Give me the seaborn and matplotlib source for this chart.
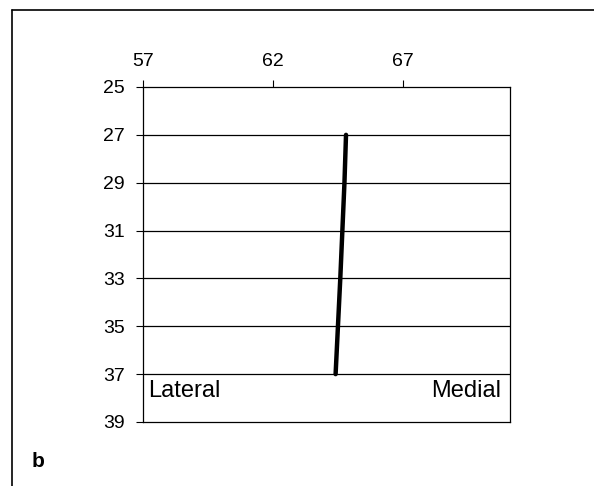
import numpy as np
import pandas as pd
import seaborn as sns
import matplotlib
matplotlib.use("Agg")
import matplotlib.pyplot as plt
from matplotlib.lines import Line2D

# position (x, top axis) for each depth level (y, inverted)
depth = [27, 29, 31, 33, 35, 37]
position = [64.8, 64.74, 64.66, 64.58, 64.49, 64.4]

x_ticks = [57, 62, 67]
y_ticks = [25, 27, 29, 31, 33, 35, 37, 39]
side_labels = ["Lateral", "Medial"]
panel_label = "b"

df = pd.DataFrame({"position": position, "depth": depth})

sns.set_theme(style="white")
plt.rcParams["font.family"] = ["Liberation Sans", "DejaVu Sans"]

fig = plt.figure(figsize=(5.94, 4.86), dpi=100)
ax = fig.add_axes([0.2407, 0.1317, 0.6179, 0.6893])

sns.lineplot(data=df, x="position", y="depth", sort=False, orient="y",
             color="black", linewidth=3.2, ax=ax)

ax.set_xlim(57, 71.1)
ax.set_ylim(39, 25)
ax.set_xticks(x_ticks)
ax.set_yticks(y_ticks)
ax.xaxis.tick_top()
ax.tick_params(axis="both", direction="out", length=5, width=0.8,
               color="black", labelsize=14, labelcolor="black")
ax.tick_params(axis="x", bottom=False, top=True, pad=7)
ax.tick_params(axis="y", left=True, pad=8)
ax.set_xlabel("")
ax.set_ylabel("")

for yv in y_ticks[1:-1]:
    ax.axhline(yv, color="black", linewidth=0.9, zorder=0)

for sp in ax.spines.values():
    sp.set_visible(True)
    sp.set_color("black")
    sp.set_linewidth(0.9)

ax.text(0.015, 0.06, side_labels[0], transform=ax.transAxes,
        fontsize=17, ha="left", va="bottom", color="black")
ax.text(0.975, 0.06, side_labels[1], transform=ax.transAxes,
        fontsize=17, ha="right", va="bottom", color="black")

# outer frame (left and top edges of the figure panel)
fig.add_artist(Line2D([0.0202, 0.0202], [0.0, 0.9794], transform=fig.transFigure,
                      color="black", linewidth=1.2))
fig.add_artist(Line2D([0.0202, 1.0], [0.9794, 0.9794], transform=fig.transFigure,
                      color="black", linewidth=1.2))

fig.text(0.053, 0.04, panel_label, fontsize=15, fontweight="bold",
         ha="left", va="baseline", color="black")

fig.savefig("out.png", dpi=100, facecolor="white")
plt.close(fig)
